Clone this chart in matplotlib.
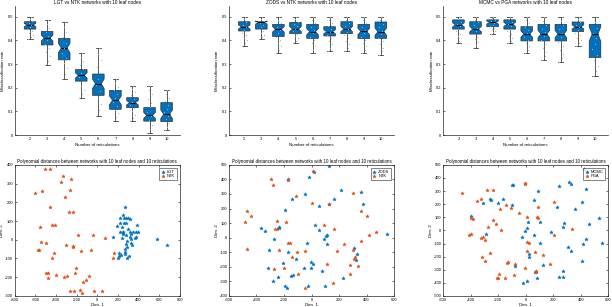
import numpy as np
import matplotlib
matplotlib.use("Agg")
import matplotlib.pyplot as plt

plt.rcParams['font.family'] = ['Liberation Sans', 'DejaVu Sans']
plt.rcParams['font.size'] = 3.2
plt.rcParams['axes.unicode_minus'] = False

BLUE = '#0072BD'
ORANGE = '#D95319'

# ---------------- Box plot data ----------------
reticulations = [2, 3, 4, 5, 6, 7, 8, 9, 10]

box_titles = ["LGT vs NTK networks with 10 leaf nodes",
              "ZODS vs NTK networks with 10 leaf nodes",
              "MCMC vs PGA networks with 10 leaf nodes"]

# LGT vs NTK
lgt_med = [0.465, 0.410, 0.368, 0.252, 0.217, 0.147, 0.137, 0.083, 0.088]
lgt_q1 = [0.448, 0.381, 0.318, 0.228, 0.168, 0.109, 0.116, 0.059, 0.057]
lgt_q3 = [0.479, 0.438, 0.408, 0.277, 0.258, 0.189, 0.158, 0.116, 0.137]
lgt_lo = [0.406, 0.298, 0.238, 0.158, 0.080, 0.059, 0.059, 0.007, 0.020]
lgt_hi = [0.500, 0.487, 0.478, 0.347, 0.368, 0.237, 0.209, 0.209, 0.189]

# ZODS vs NTK
zods_med = [0.457, 0.476, 0.447, 0.448, 0.437, 0.437, 0.448, 0.438, 0.437]
zods_q1 = [0.440, 0.448, 0.417, 0.429, 0.409, 0.419, 0.429, 0.408, 0.409]
zods_q3 = [0.479, 0.479, 0.468, 0.476, 0.468, 0.458, 0.479, 0.468, 0.478]
zods_lo = [0.378, 0.406, 0.347, 0.388, 0.347, 0.357, 0.357, 0.347, 0.339]
zods_hi = [0.500, 0.500, 0.500, 0.500, 0.500, 0.500, 0.500, 0.500, 0.500]

# MCMC vs PGA
mcmc_med = [0.466, 0.448, 0.476, 0.468, 0.427, 0.427, 0.427, 0.457, 0.427]
mcmc_q1 = [0.448, 0.427, 0.458, 0.448, 0.398, 0.398, 0.398, 0.438, 0.328]
mcmc_q3 = [0.487, 0.479, 0.487, 0.487, 0.458, 0.468, 0.468, 0.478, 0.468]
mcmc_lo = [0.388, 0.368, 0.427, 0.388, 0.347, 0.318, 0.308, 0.378, 0.248]
mcmc_hi = [0.500, 0.500, 0.500, 0.500, 0.500, 0.500, 0.500, 0.500, 0.500]

box_sets = [(lgt_med, lgt_q1, lgt_q3, lgt_lo, lgt_hi),
            (zods_med, zods_q1, zods_q3, zods_lo, zods_hi),
            (mcmc_med, mcmc_q1, mcmc_q3, mcmc_lo, mcmc_hi)]

# ---------------- Scatter data ----------------
lgt_x = [267, 244, 215, 254, 280, 299, 312, 215, 254, 273, 186, 241, 389, 302, 244, 215, 251,
         315, 344, 376, 392, 247, 328, 280, 373, 321, 238, 289, 324, 366, 328, 334, 280, 286,
         267, 267, 209, 231, 267, 196, 212, 289, 305, 582, 678, 151]
lgt_y = [173, 132, 118, 114, 116, 116, 109, 91, 88, 88, 71, 70, 77, 55, 41, 39, 39,
         39, 39, 39, 41, 30, 29, 25, 14, 13, 11, -7, 2, 11, -16, -29, -25, -41,
         -50, -64, -73, -79, -77, -98, -88, -100, -88, 2, -29, 13]
ntk1_x = [-508, -459, -334, -350, -254, -607, -533, -308, -260, -456, -270, -238, -434, -405,
          -559, -190, -45, 71, -549, -495, -572, -562, -299, -235, -418, -235, -157, -61,
          -434, 161, 148, -209, -218, -479, -492, -398, -476, -292, -321, -109, -84, -138,
          -260, -222, -164, -145, -29, 45]
ntk1_y = [379, 379, 338, 309, 327, 248, 259, 230, 266, 175, 148, 148, 77, 77,
          66, 27, 25, 7, -13, -18, -54, -55, -27, -32, -71, -41, -61, -55,
          -95, -70, -95, -152, -179, -179, -179, -186, -205, -191, -198, -214, -196, -227,
          -271, -271, -266, -282, -271, -275]

zods_x = [127, 20, -17, -168, 212, 361, -46, -141, 166, 376, 127, 56, -195, 22, 54, -368,
          -339, -237, -234, 107, 93, 115, 112, -276, -34, -307, -168, -110, -2, 10, -210, -5,
          -54, 76, -317, -246, -146, -137, -283, 229, -193, -178, -22, 95, 551, 312, 332, 324]
zods_y = [493, 450, 415, 401, 326, 312, 300, 264, 264, 234, 229, 220, 188, 85, 50, 67,
          48, 67, 73, 11, -11, 16, -46, -11, -34, -83, -99, -145, -165, -184, -172, -209,
          -209, -227, -206, -271, -262, -255, -298, -280, -335, -344, -333, -335, 23, -73, -115, -154]
ntk2_x = [10, -293, -280, -173, -112, 298, 129, 356, 0, -468, -439, -480, -251, -183, -266,
          -249, 90, 163, 402, 471, 361, 234, 417, -168, -154, -468, -239, -102, -44, 185, 300,
          305, 283, 315, 337, 280, -276, -141, -202, 112, -98, -46, 159]
ntk2_y = [456, 404, 365, 399, 287, 307, 229, 186, 236, 184, 149, 108, 115, 108, 60,
          60, 87, 57, 149, 39, -21, -44, 18, -39, -34, -78, -83, -96, -89, -89, -83,
          -145, -188, -131, -197, -248, -213, -131, -211, -184, -252, -344, -312]

mcmc_x = [421, 315, 330, 245, 441, -98, -91, 91, 412, 359, 228, -165, -262, -255, -308, -199,
          -103, 57, -395, 18, 105, 279, 274, 457, 532, 6, -8, -25, 187, 59, -286, 103, 554,
          441, 414, 310, 330, 21, 21, 124, -76, 71, 83, 11, -18, 407, 269, 243, 269]
mcmc_y = [469, 370, 355, 342, 316, 349, 349, 298, 217, 163, 179, 240, 240, 232, 212, 207,
          196, 232, 107, 64, 61, 59, 23, 46, 92, 18, -5, -48, -13, -38, -28, -99, -94,
          -69, -105, -128, -156, -179, -204, -265, -268, -321, -365, -383, -400, -235, -306, -357, -352]
pga_x = [-460, -284, -326, -353, -235, -146, -189, -110, -50, -8, -8, 91, 207, 81, 88, 9, 339,
         205, -395, -383, -235, -215, -273, -178, -397, -412, -312, -324, -295, 9, 21, -262, 13,
         64, 129, -320, -296, -129, -139, -76, 173, -8, 78, 74, -199, -209, -153, -83, -194]
pga_y = [288, 306, 242, 227, 306, 194, 163, 173, 130, 365, 355, 179, 219, 102, 94, 102, 8,
         -36, 94, 87, 77, 48, 26, 3, -28, -33, -51, -59, -77, -89, -94, -173, -156,
         -168, -186, -202, -235, -242, -247, -258, -258, -283, -309, -319, -365, -365, -360, -337, -332]

scatter_sets = [((lgt_x, lgt_y, 'LGT'), (ntk1_x, ntk1_y, 'NTK'), (-800, 800), (-300, 400), 200, 100),
                ((zods_x, zods_y, 'ZODS'), (ntk2_x, ntk2_y, 'NTK'), (-600, 600), (-400, 500), 200, 100),
                ((mcmc_x, mcmc_y, 'MCMC'), (pga_x, pga_y, 'PGA'), (-600, 600), (-500, 500), 200, 100)]
scatter_title = "Polynomial distances between networks with 10 leaf nodes and 10 reticulations"

fig = plt.figure(figsize=(6.12, 3.07), dpi=100)
lefts = [0.024, 0.374, 0.724]
width = 0.270

TICK_FS = 2.9
LAB_FS = 3.2
TITLE_FS = 3.4

def style(ax, box=True):
    ax.tick_params(direction='in', length=1.5, width=0.4, labelsize=TICK_FS, pad=1.2,
                   top=box, right=box)
    for s in ax.spines.values():
        s.set_linewidth(0.5)
        s.set_color('#262626')
    if not box:
        ax.spines['top'].set_visible(False)
        ax.spines['right'].set_visible(False)

# Top row: notched box plots
jit = np.array([-0.12, 0.05, 0.15, -0.04, 0.10, -0.15, 0.0, 0.08, -0.09, 0.13, -0.02, 0.04])
for i, (med, q1, q3, lo, hi) in enumerate(box_sets):
    ax = fig.add_axes([lefts[i], 0.56, width, 0.42])
    stats = []
    for k in range(len(reticulations)):
        iqr = q3[k] - q1[k]
        half = 1.57 * iqr / np.sqrt(50)
        stats.append(dict(med=med[k], q1=q1[k], q3=q3[k], whislo=lo[k], whishi=hi[k],
                          cilo=med[k] - half, cihi=med[k] + half, fliers=[]))
    ax.bxp(stats, positions=reticulations, widths=0.68, shownotches=True, patch_artist=True,
           boxprops=dict(facecolor=BLUE, edgecolor='#303030', linewidth=0.5),
           medianprops=dict(color='black', linewidth=0.8),
           whiskerprops=dict(color='#404040', linewidth=0.6),
           capprops=dict(color='#404040', linewidth=0.6), capwidths=0.3)
    # grey sample points spread over the box/whisker range
    for k, r in enumerate(reticulations):
        vals = np.linspace(lo[k], hi[k], len(jit))
        ax.scatter(r + jit, vals, s=0.7, color='#b0b0b0', zorder=3, linewidths=0)
    ax.set_xlim(1.1, 10.78)
    ax.set_ylim(0, 0.545)
    ax.set_yticks([0, 0.1, 0.2, 0.3, 0.4, 0.5])
    ax.set_yticklabels(['0', '0.1', '0.2', '0.3', '0.4', '0.5'])
    ax.set_xticks(reticulations)
    ax.set_xticklabels([str(r) for r in reticulations])
    style(ax, box=False)
    ax.tick_params(axis='x', length=0)
    ax.set_title(box_titles[i], fontsize=TITLE_FS, pad=1.5)
    ax.set_ylabel("Misclassification rate", fontsize=LAB_FS)
    ax.yaxis.set_label_coords(-0.058, 0.5)
    ax.set_xlabel("Number of reticulations", fontsize=LAB_FS, labelpad=1.5)

# Bottom row: scatter
for i, (a, b, xl, yl, xs, ys) in enumerate(scatter_sets):
    ax = fig.add_axes([lefts[i], 0.036, width, 0.427])
    ax.scatter(a[0], a[1], marker='*', s=7, color=BLUE, linewidths=0.3, label=a[2])
    ax.scatter(b[0], b[1], marker='*', s=7, color=ORANGE, linewidths=0.3, label=b[2])
    ax.set_xlim(*xl)
    ax.set_ylim(*yl)
    ax.set_xticks(np.arange(xl[0], xl[1] + 1, xs))
    ax.set_yticks(np.arange(yl[0], yl[1] + 1, ys))
    style(ax, box=True)
    ax.set_title(scatter_title, fontsize=3.25, pad=1.5)
    ax.set_xlabel("Dim. 1", fontsize=LAB_FS, labelpad=1.0)
    ax.set_ylabel("Dim. 2", fontsize=LAB_FS)
    ax.yaxis.set_label_coords(-0.062, 0.5)
    leg = ax.legend(loc='upper right', fontsize=TICK_FS, frameon=True, fancybox=False,
                    edgecolor='#262626', borderpad=0.4, handlelength=1.0, handletextpad=0.5,
                    labelspacing=0.2, borderaxespad=0.8)
    leg.get_frame().set_linewidth(0.5)

fig.savefig("out.png", dpi=100)
